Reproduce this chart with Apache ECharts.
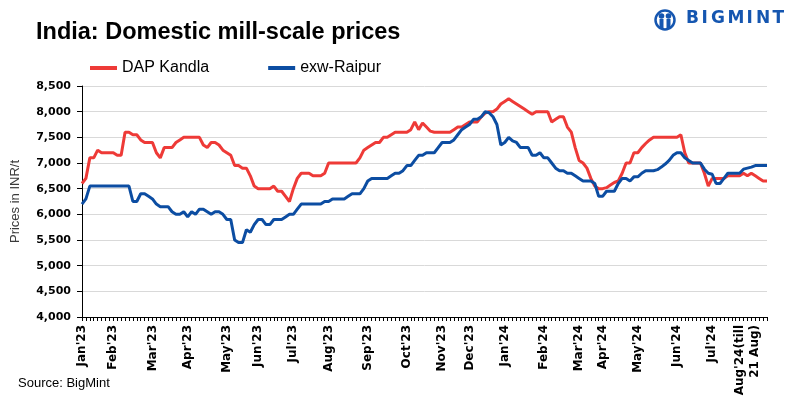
<!DOCTYPE html>
<html>
<head>
<meta charset="utf-8">
<script src="https://cdn.jsdelivr.net/npm/echarts@6/dist/echarts.min.js"></script>
<style>
html,body{margin:0;padding:0;background:#fff;}
#chart{width:805px;height:399px;}
</style>
</head>
<body>
<div id="chart"></div>
<script>
// Month tick labels and the data-point index where each month starts
const monthLabels = ["Jan'23","Feb'23","Mar'23","Apr'23","May'23","Jun'23","Jul'23","Aug'23","Sep'23","Oct'23","Nov'23","Dec'23","Jan'24","Feb'24","Mar'24","Apr'24","May'24","Jun'24","Jul'24","Aug'24(till\n21 Aug)"];
const monthStarts = [0,8,18,27,37,45,54,63,73,83,92,99,108,118,127,133,142,152,161,170];

// DAP Kandla (INR/t)
const dapKandla = [
6600,6700,7100,7100,7250,7200,7200,7200,7200,7150,
7150,7600,7600,7550,7550,7450,7400,7400,7400,7200,
7100,7300,7300,7300,7400,7450,7500,7500,7500,7500,
7500,7350,7300,7400,7400,7350,7250,7200,7150,6950,
6950,6900,6900,6750,6550,6500,6500,6500,6500,6550,
6450,6450,6350,6250,6500,6700,6800,6800,6800,6750,
6750,6750,6800,7000,7000,7000,7000,7000,7000,7000,
7000,7100,7250,7300,7350,7400,7400,7500,7500,7550,
7600,7600,7600,7600,7650,7800,7650,7780,7700,7620,
7600,7600,7600,7600,7600,7650,7700,7700,7750,7800,
7800,7800,7900,7970,8000,8000,8050,8150,8200,8250,
8200,8150,8100,8050,8000,7950,8000,8000,8000,8000,
7800,7850,7900,7900,7700,7600,7300,7050,7000,6900,
6700,6550,6500,6500,6520,6570,6620,6650,6800,7000,
7000,7200,7200,7300,7380,7450,7500,7500,7500,7500,
7500,7500,7500,7550,7200,7000,7000,7000,7000,6800,
6550,6700,6700,6700,6700,6750,6750,6750,6750,6800,
6750,6800,6750,6700,6650,6650
];

// exw-Raipur (INR/t)
const exwRaipur = [
6200,6300,6550,6550,6550,6550,6550,6550,6550,6550,
6550,6550,6550,6250,6250,6400,6400,6350,6300,6200,
6150,6150,6150,6050,6000,6000,6050,5950,6050,6000,
6100,6100,6050,6000,6050,6050,6000,5900,5900,5500,
5450,5450,5700,5650,5800,5900,5900,5800,5800,5900,
5900,5900,5950,6000,6000,6100,6200,6200,6200,6200,
6200,6200,6250,6250,6300,6300,6300,6300,6350,6400,
6400,6400,6500,6650,6700,6700,6700,6700,6700,6750,
6800,6800,6850,6950,6950,7050,7150,7150,7200,7200,
7200,7300,7400,7400,7400,7450,7550,7650,7700,7750,
7850,7850,7900,8000,7980,7900,7750,7350,7400,7500,
7430,7400,7300,7300,7300,7150,7150,7200,7100,7100,
7000,6900,6850,6850,6800,6800,6750,6700,6650,6650,
6650,6600,6350,6350,6450,6450,6450,6600,6700,6700,
6650,6730,6730,6800,6850,6850,6850,6870,6920,6980,
7050,7150,7200,7200,7100,7050,7000,7000,7000,6880,
6800,6780,6600,6600,6700,6800,6800,6800,6800,6880,
6900,6920,6950,6950,6950,6950
];

const yTicks = [4000,4500,5000,5500,6000,6500,7000,7500,8000,8500];

// Build category labels: month label at month start, blank otherwise
const categories = dapKandla.map(function(_, i){
  const k = monthStarts.indexOf(i);
  return k >= 0 ? monthLabels[k] : '';
});

const RED = '#EE3A37';
const BLUE = '#0C4DA2';
const LOGO = '#1556B0';

const chart = echarts.init(document.getElementById('chart'), null, {renderer:'canvas'});

// logo letters
const logoLetters = ['B','I','G','M','I','N','T'];
const logoAdv = [15.5,9.5,16.5,19,9.5,16.5,14];
let lx = 686;
const logoTextEls = logoLetters.map(function(ch, i){
  const el = {type:'text', left: lx, top: 10, style:{text: ch, font: 'bold 17px "DejaVu Sans"', fill: LOGO}};
  lx += logoAdv[i];
  return el;
});

chart.setOption({
  animation: false,
  backgroundColor: '#fff',
  title: {
    text: 'India: Domestic mill-scale prices',
    left: 31, top: 16,
    textStyle: {fontSize: 23.5, fontWeight: 'bold', fontFamily: 'Liberation Sans', color: '#000'}
  },
  legend: {
    left: 90, top: 60, padding: 0,
    icon: 'rect', itemWidth: 27, itemHeight: 4, itemGap: 59,
    textStyle: {fontSize: 16, fontFamily: 'Liberation Sans', color: '#000'},
    data: ['DAP Kandla','exw-Raipur']
  },
  grid: {left: 82, right: 38, top: 86, bottom: 82, containLabel: false},
  xAxis: {
    type: 'category',
    data: categories,
    boundaryGap: false,
    axisLine: {lineStyle: {color: '#000', width: 1}},
    axisTick: {show: true, interval: 0, length: 4, lineStyle: {color: '#000'}},
    axisLabel: {
      interval: 0, rotate: 90, margin: 8,
      fontFamily: 'DejaVu Sans', fontWeight: 'bold', fontSize: 12, color: '#000', lineHeight: 15
    },
    splitLine: {show: false}
  },
  yAxis: {
    type: 'value',
    min: yTicks[0], max: yTicks[yTicks.length-1], interval: 500,
    name: 'Prices in INR/t', nameLocation: 'middle', nameGap: 60, nameRotate: 90,
    nameTextStyle: {fontFamily: 'Liberation Sans', fontSize: 13, color: '#3a3a3a'},
    axisLine: {show: true, lineStyle: {color: '#000', width: 1}},
    axisTick: {show: true, length: 5, lineStyle: {color: '#000'}},
    axisLabel: {
      margin: 11,
      fontFamily: 'DejaVu Sans', fontWeight: 'bold', fontSize: 11, color: '#000',
      formatter: function(v){ return v.toLocaleString('en-US'); }
    },
    splitLine: {show: true, lineStyle: {color: '#d9d9d9', width: 1}}
  },
  series: [
    {name: 'DAP Kandla', type: 'line', data: dapKandla, showSymbol: false, symbol: 'none',
     lineStyle: {color: RED, width: 3}, itemStyle: {color: RED}, z: 2},
    {name: 'exw-Raipur', type: 'line', data: exwRaipur, showSymbol: false, symbol: 'none',
     lineStyle: {color: BLUE, width: 3}, itemStyle: {color: BLUE}, z: 3}
  ],
  graphic: [
    {type: 'text', left: 18, top: 377,
     style: {text: 'Source: BigMint', font: '13px "Liberation Sans"', fill: '#000'}},
    {type: 'group', left: 653, top: 8, children: [
      {type: 'circle', shape: {cx: 10, cy: 11, r: 9.5}, style: {fill: 'none', stroke: LOGO, lineWidth: 2.5}},
      {type: 'circle', shape: {cx: 6.5, cy: 7, r: 2.8}, style: {fill: LOGO}},
      {type: 'circle', shape: {cx: 13.5, cy: 7, r: 2.8}, style: {fill: LOGO}},
      {type: 'rect', shape: {x: 4.5, y: 10, width: 4, height: 9}, style: {fill: LOGO}},
      {type: 'rect', shape: {x: 11.5, y: 10, width: 4, height: 9}, style: {fill: LOGO}}
    ]}
  ].concat(logoTextEls)
});
</script>
</body>
</html>
